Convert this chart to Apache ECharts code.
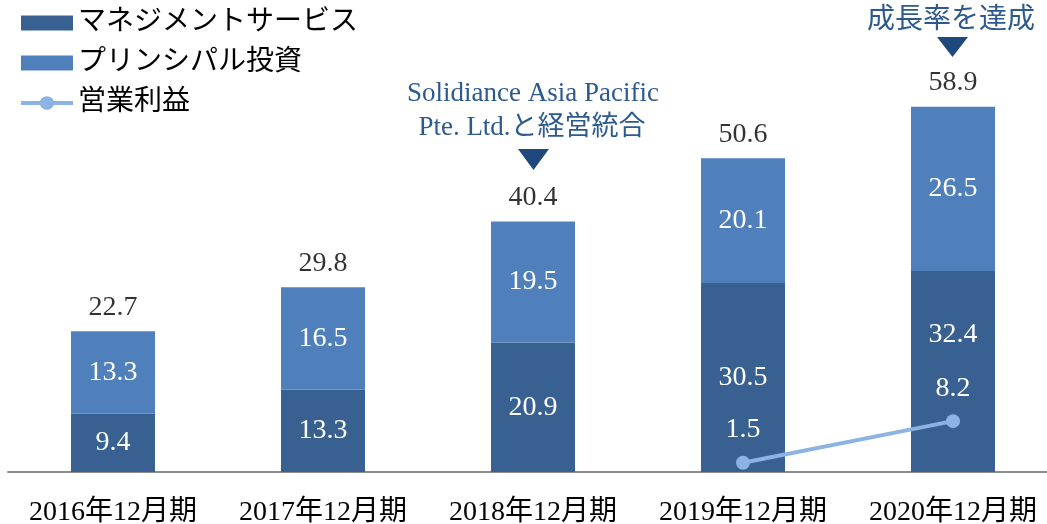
<!DOCTYPE html>
<html>
<head>
<meta charset="utf-8">
<script src="https://cdn.jsdelivr.net/npm/echarts@6/dist/echarts.min.js"></script>
<style>
  html, body { margin: 0; padding: 0; background: #fff; }
  #main { width: 1047px; height: 524px; }
</style>
</head>
<body>
<div id="main"></div>
<script>
var categories = ["2016年12月期", "2017年12月期", "2018年12月期", "2019年12月期", "2020年12月期"];
var managementData = [9.4, 13.3, 20.9, 30.5, 32.4];
var principalData = [13.3, 16.5, 19.5, 20.1, 26.5];
var totalData = [22.7, 29.8, 40.4, 50.6, 58.9];
var profitData = ["-", "-", "-", 1.5, 8.2];

var fontFamily = '"Liberation Serif", "Noto Sans CJK JP", serif';
var textColor = "#2c5a8e";

// 32.4のラベルは営業利益のラベルと重ならないよう上にずらす
var managementSeriesData = managementData.map(function (v, i) {
  if (i === 4) {
    return { value: v, label: { offset: [0, -37] } };
  }
  return v;
});

// 凡例の「線＋丸」アイコン
var lineIcon = "path://M0,5.5L19,5.5A7.5,7.5 0 0 1 33,5.5L52,5.5L52,9.5L33,9.5A7.5,7.5 0 0 1 19,9.5L0,9.5Z";

var chart = echarts.init(document.getElementById("main"));
var option = {
  animation: false,
  textStyle: { fontFamily: fontFamily },
  grid: { left: 8, width: 1050, top: 38, bottom: 52, outerBoundsMode: "none" },
  legend: {
    orient: "vertical",
    left: 16,
    top: 4,
    itemWidth: 52,
    itemHeight: 15,
    itemGap: 12,
    textStyle: { fontSize: 28, color: "#000", fontFamily: fontFamily },
    data: [
      { name: "マネジメントサービス", icon: "rect" },
      { name: "プリンシパル投資", icon: "rect" },
      { name: "営業利益", icon: lineIcon }
    ]
  },
  xAxis: {
    type: "category",
    data: categories,
    axisTick: { show: false },
    axisLine: { lineStyle: { color: "#8c8c8c", width: 2 } },
    axisLabel: { fontSize: 28, color: "#000", margin: 27, interval: 0, fontFamily: fontFamily }
  },
  yAxis: {
    type: "value",
    min: 0,
    max: 70,
    show: false,
    splitLine: { show: false }
  },
  series: [
    {
      name: "マネジメントサービス",
      type: "bar",
      stack: "total",
      barWidth: "40%",
      data: managementSeriesData,
      itemStyle: { color: "#386192" },
      label: { show: true, position: "inside", color: "#fff", fontSize: 28, fontFamily: fontFamily },
      z: 2
    },
    {
      name: "プリンシパル投資",
      type: "bar",
      stack: "total",
      data: principalData,
      itemStyle: { color: "#4f80bc" },
      label: { show: true, position: "inside", color: "#fff", fontSize: 28, fontFamily: fontFamily },
      z: 2
    },
    {
      name: "合計",
      type: "scatter",
      data: totalData,
      symbolSize: 0,
      label: { show: true, position: "top", distance: 10, color: "#000", fontSize: 28, fontFamily: fontFamily },
      z: 3
    },
    {
      name: "営業利益",
      type: "line",
      data: profitData,
      symbol: "circle",
      symbolSize: 14,
      lineStyle: { color: "#8db3e2", width: 4 },
      itemStyle: { color: "#8db3e2" },
      label: { show: true, position: "top", distance: 12, color: "#fff", fontSize: 28, fontFamily: fontFamily },
      z: 5
    }
  ],
  graphic: [
    {
      type: "text",
      x: 533,
      y: 94,
      style: {
        text: "Solidiance Asia Pacific",
        fill: textColor,
        font: '27px "Liberation Serif", "Noto Sans CJK JP", serif',
        textAlign: "center",
        textVerticalAlign: "middle"
      }
    },
    {
      type: "text",
      x: 532,
      y: 128,
      style: {
        text: "Pte. Ltd.と経営統合",
        fill: textColor,
        font: '27px "Liberation Serif", "Noto Sans CJK JP", serif',
        textAlign: "center",
        textVerticalAlign: "middle"
      }
    },
    {
      type: "polygon",
      shape: { points: [[518, 149], [549, 149], [533.5, 170]] },
      style: { fill: "#1f497d" }
    },
    {
      type: "text",
      x: 951,
      y: 17,
      style: {
        text: "成長率を達成",
        fill: textColor,
        font: '28px "Noto Sans CJK JP", sans-serif',
        textAlign: "center",
        textVerticalAlign: "middle"
      }
    },
    {
      type: "polygon",
      shape: { points: [[937, 37], [968, 37], [952.5, 57]] },
      style: { fill: "#1f497d" }
    }
  ]
};
chart.setOption(option);
window.addEventListener("resize", function () {
  chart.resize();
});
</script>
</body>
</html>
